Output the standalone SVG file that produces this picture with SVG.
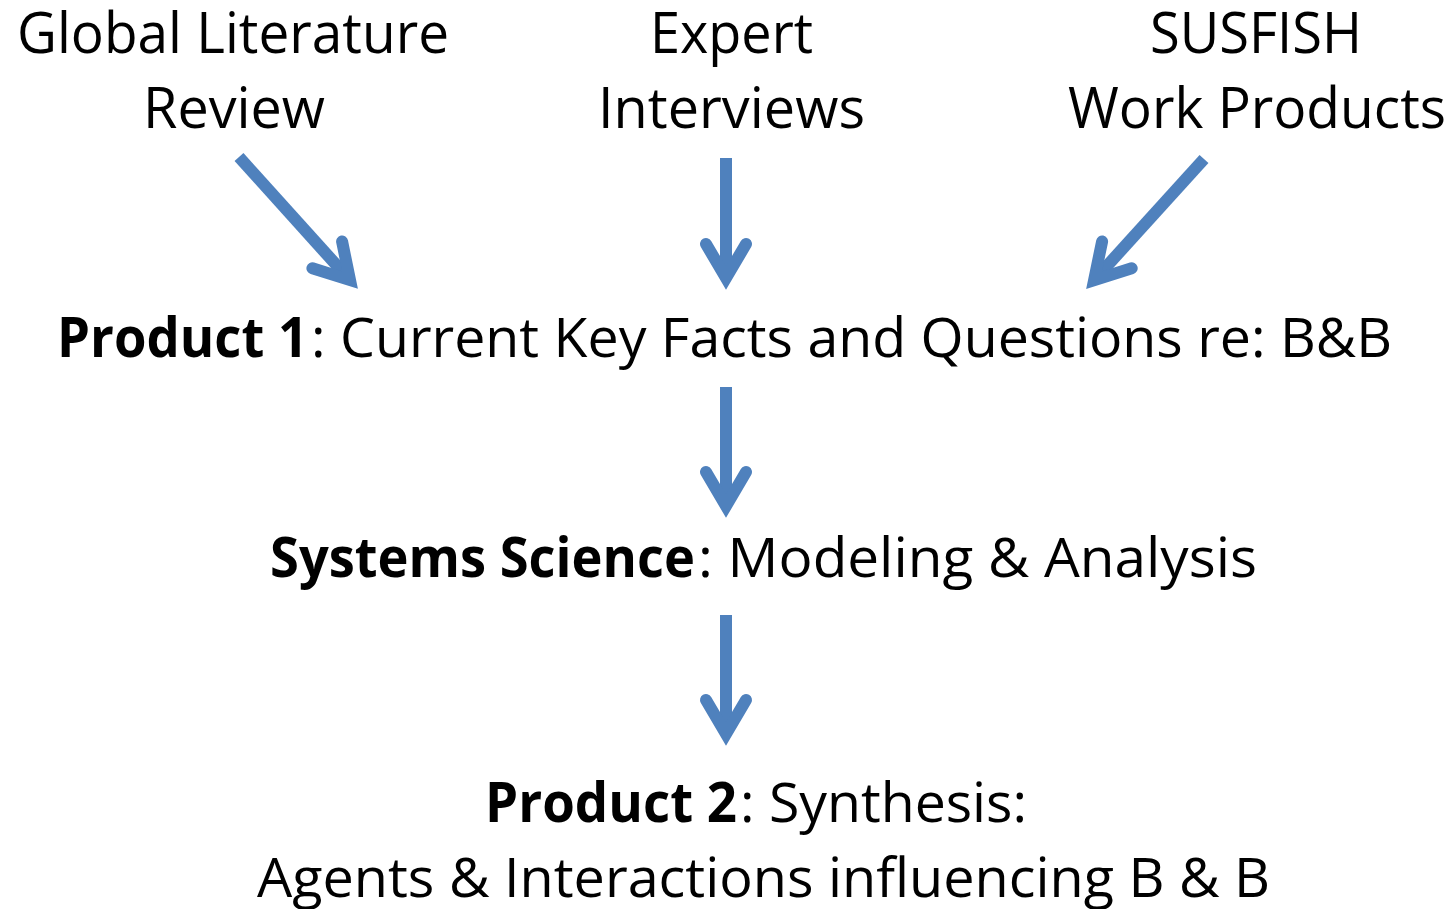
<svg xmlns="http://www.w3.org/2000/svg" width="1454" height="909" viewBox="0 0 1454 909">
<style>
.t{font-family:"Open Sans","Noto Sans","Liberation Sans",sans-serif;fill:#000;}
.s{font-size:56px;}
.m{font-size:55px;}
.b{font-weight:bold;}
.shaft{fill:none;stroke:#4F81BD;stroke-width:12;stroke-linecap:butt;}
.head{fill:none;stroke:#4F81BD;stroke-width:12;stroke-linecap:round;stroke-linejoin:miter;stroke-miterlimit:6;}
</style>
<rect width="1454" height="909" fill="#fff"/>
<g id="node-literature">
<text class="t s" x="17" y="53" textLength="432" lengthAdjust="spacingAndGlyphs">Global Literature</text>
<text class="t s" x="143" y="128" textLength="182" lengthAdjust="spacingAndGlyphs">Review</text>
</g>
<g id="node-expert">
<text class="t s" x="650" y="53" textLength="163" lengthAdjust="spacingAndGlyphs">Expert</text>
<text class="t s" x="598" y="128" textLength="267" lengthAdjust="spacingAndGlyphs">Interviews</text>
</g>
<g id="node-susfish">
<text class="t s" x="1150" y="53" textLength="212" lengthAdjust="spacingAndGlyphs">SUSFISH</text>
<text class="t s" x="1068" y="128" textLength="378" lengthAdjust="spacingAndGlyphs">Work Products</text>
</g>
<g id="node-product1">
<text class="t m b" x="57" y="357" textLength="251" lengthAdjust="spacingAndGlyphs">Product 1</text>
<text class="t m" x="311" y="357" textLength="1081" lengthAdjust="spacingAndGlyphs">: Current Key Facts and Questions re: B&amp;B</text>
</g>
<g id="node-systems">
<text class="t m b" x="270" y="577" textLength="425" lengthAdjust="spacingAndGlyphs">Systems Science</text>
<text class="t m" x="698" y="577" textLength="559" lengthAdjust="spacingAndGlyphs">: Modeling &amp; Analysis</text>
</g>
<g id="node-product2">
<text class="t m b" x="485" y="822" textLength="252" lengthAdjust="spacingAndGlyphs">Product 2</text>
<text class="t m" x="740" y="822" textLength="287" lengthAdjust="spacingAndGlyphs">: Synthesis:</text>
<text class="t m" x="257" y="897" textLength="1013" lengthAdjust="spacingAndGlyphs">Agents &amp; Interactions influencing B &amp; B</text>
</g>
<g id="connectors">
<line class="shaft" x1="239" y1="157" x2="350" y2="280.1"/>
<polyline class="head" points="312.4,268.3 350,280.1 342.1,241.5"/>
<line class="shaft" x1="726" y1="158" x2="726" y2="278"/>
<polyline class="head" points="706,244 726,278 746,244"/>
<line class="shaft" x1="1204" y1="159" x2="1094.1" y2="280.1"/>
<polyline class="head" points="1131.7,268.3 1094.1,280.1 1102.1,241.5"/>
<line class="shaft" x1="726" y1="387" x2="726" y2="506"/>
<polyline class="head" points="706,472 726,506 746,472"/>
<line class="shaft" x1="726" y1="615" x2="726" y2="734"/>
<polyline class="head" points="706,700 726,734 746,700"/>
</g>
</svg>
